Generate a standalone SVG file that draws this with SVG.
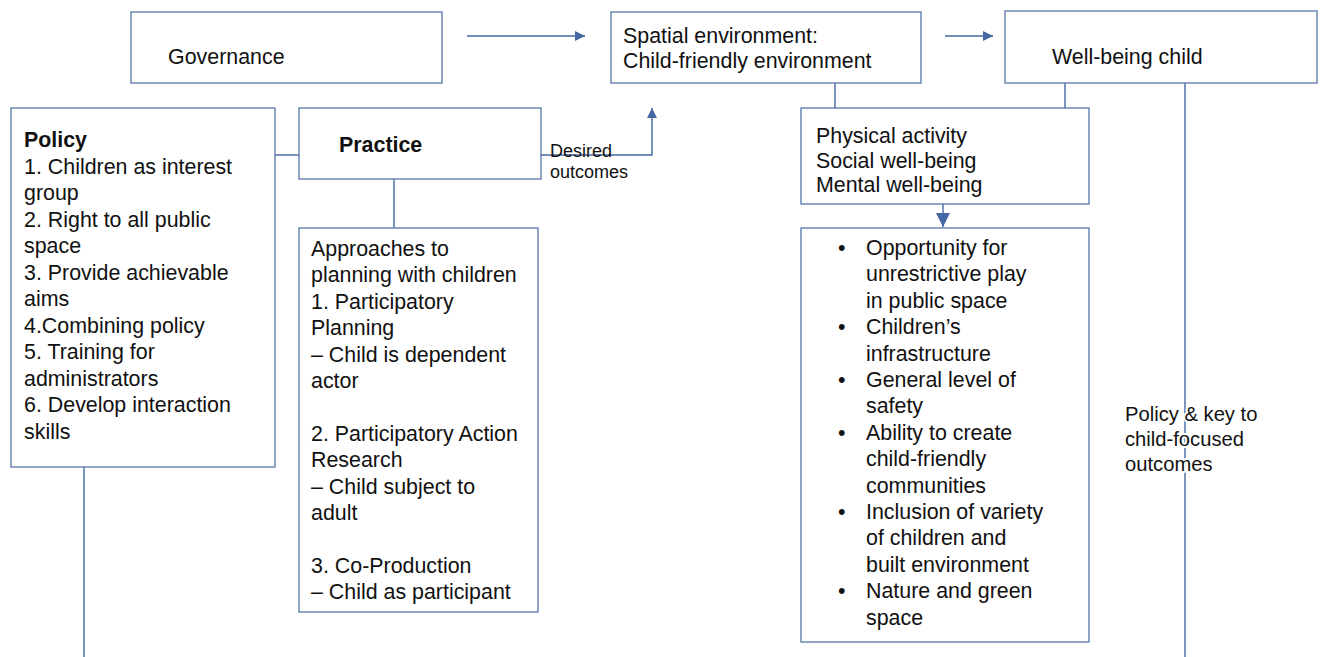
<svg xmlns="http://www.w3.org/2000/svg" width="1324" height="657" viewBox="0 0 1324 657">
<defs>
<style>
.box{fill:#fff;stroke:#5676aa;stroke-width:1.3}
.ln{fill:none;stroke:#4468a3;stroke-width:1.4}
.t{font-family:"Liberation Sans",Arial,sans-serif;font-size:21.4px;fill:#111}
.b{font-weight:bold}
.s{font-family:"Liberation Sans",Arial,sans-serif;font-size:18px;fill:#111}
.lbl{font-family:"Liberation Sans",Arial,sans-serif;font-size:20.2px;fill:#111;stroke:#fff;stroke-width:4;paint-order:stroke;stroke-linejoin:round}
</style>
<marker id="ah" markerUnits="userSpaceOnUse" markerWidth="10" markerHeight="10" refX="10" refY="5" orient="auto">
<path d="M0,0 L10,5 L0,10 z" fill="#4468a3"/>
</marker>
<marker id="ahb" markerUnits="userSpaceOnUse" markerWidth="14" markerHeight="14" refX="14" refY="7" orient="auto">
<path d="M0,0 L14,7 L0,14 z" fill="#4468a3"/>
</marker>
</defs>

<g id="connectors">
<line class="ln" x1="467" y1="36" x2="585" y2="36" marker-end="url(#ah)"/>
<line class="ln" x1="945" y1="36" x2="993" y2="36" marker-end="url(#ah)"/>
<line class="ln" x1="275" y1="155" x2="299" y2="155"/>
<polyline class="ln" points="541,155 652,155 652,108" marker-end="url(#ah)"/>
<line class="ln" x1="394" y1="179" x2="394" y2="228"/>
<line class="ln" x1="84" y1="467" x2="84" y2="657"/>
<line class="ln" x1="835" y1="83" x2="835" y2="108"/>
<line class="ln" x1="1065" y1="83" x2="1065" y2="108"/>
<line class="ln" x1="943" y1="204" x2="943" y2="227" marker-end="url(#ahb)"/>
<line class="ln" x1="1185" y1="83" x2="1185" y2="657"/>
<text class="s" x="550" y="157">Desired</text>
<text class="s" x="550" y="178">outcomes</text>
<text class="lbl"><tspan x="1125" y="421">Policy &amp; key to</tspan><tspan x="1125" y="446">child-focused</tspan><tspan x="1125" y="471">outcomes</tspan></text>
</g>

<g id="governance">
<rect class="box" x="131" y="12" width="311" height="71"/>
<text class="t" x="168" y="64">Governance</text>
</g>

<g id="spatial">
<rect class="box" x="611" y="12" width="310" height="71"/>
<text class="t" x="623" y="43">Spatial environment:</text>
<text class="t" x="623" y="68">Child-friendly environment</text>
</g>

<g id="wellbeing">
<rect class="box" x="1005" y="11" width="312" height="72"/>
<text class="t" x="1052" y="64">Well-being child</text>
</g>

<g id="policy">
<rect class="box" x="11" y="108" width="264" height="359"/>
<text class="t b" x="24" y="147">Policy</text>
<text class="t">
<tspan x="24" y="173.5">1. Children as interest</tspan>
<tspan x="24" y="200">group</tspan>
<tspan x="24" y="226.5">2. Right to all public</tspan>
<tspan x="24" y="253">space</tspan>
<tspan x="24" y="279.5">3. Provide achievable</tspan>
<tspan x="24" y="306">aims</tspan>
<tspan x="24" y="332.5">4.Combining policy</tspan>
<tspan x="24" y="359">5. Training for</tspan>
<tspan x="24" y="385.5">administrators</tspan>
<tspan x="24" y="412">6. Develop interaction</tspan>
<tspan x="24" y="438.5">skills</tspan>
</text>
</g>

<g id="practice">
<rect class="box" x="299" y="108" width="242" height="71"/>
<text class="t b" x="339" y="152">Practice</text>
</g>

<g id="approaches">
<rect class="box" x="299" y="228" width="239" height="384"/>
<text class="t">
<tspan x="311" y="256">Approaches to</tspan>
<tspan x="311" y="282.4">planning with children</tspan>
<tspan x="311" y="308.8">1. Participatory</tspan>
<tspan x="311" y="335.2">Planning</tspan>
<tspan x="311" y="361.6">– Child is dependent</tspan>
<tspan x="311" y="388">actor</tspan>
<tspan x="311" y="440.8">2. Participatory Action</tspan>
<tspan x="311" y="467.2">Research</tspan>
<tspan x="311" y="493.6">– Child subject to</tspan>
<tspan x="311" y="520">adult</tspan>
<tspan x="311" y="572.8">3. Co-Production</tspan>
<tspan x="311" y="599.2">– Child as participant</tspan>
</text>
</g>

<g id="physical">
<rect class="box" x="801" y="108" width="288" height="96"/>
<text class="t">
<tspan x="816" y="143">Physical activity</tspan>
<tspan x="816" y="167.5">Social well-being</tspan>
<tspan x="816" y="192">Mental well-being</tspan>
</text>
</g>

<g id="factors">
<rect class="box" x="801" y="228" width="288" height="414"/>
<text class="t">
<tspan x="838" y="255">•</tspan>
<tspan x="838" y="334.2">•</tspan>
<tspan x="838" y="387">•</tspan>
<tspan x="838" y="439.8">•</tspan>
<tspan x="838" y="519">•</tspan>
<tspan x="838" y="598.2">•</tspan>
</text>
<text class="t">
<tspan x="866" y="255">Opportunity for</tspan>
<tspan x="866" y="281.4">unrestrictive play</tspan>
<tspan x="866" y="307.8">in public space</tspan>
<tspan x="866" y="334.2">Children’s</tspan>
<tspan x="866" y="360.6">infrastructure</tspan>
<tspan x="866" y="387">General level of</tspan>
<tspan x="866" y="413.4">safety</tspan>
<tspan x="866" y="439.8">Ability to create</tspan>
<tspan x="866" y="466.2">child-friendly</tspan>
<tspan x="866" y="492.6">communities</tspan>
<tspan x="866" y="519">Inclusion of variety</tspan>
<tspan x="866" y="545.4">of children and</tspan>
<tspan x="866" y="571.8">built environment</tspan>
<tspan x="866" y="598.2">Nature and green</tspan>
<tspan x="866" y="624.6">space</tspan>
</text>
</g>
</svg>
